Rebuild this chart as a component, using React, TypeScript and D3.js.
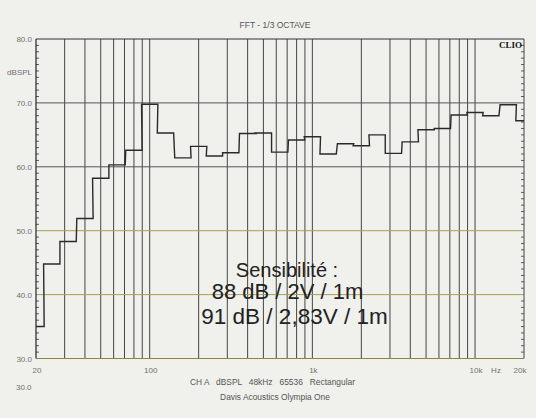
import React from "react";
import * as d3 from "d3";

const bandCenters = [20, 25, 31.5, 40, 50, 63, 80, 100, 125, 160, 200, 250, 315, 400, 500, 630, 800, 1000, 1250, 1600, 2000, 2500, 3150, 4000, 5000, 6300, 8000, 10000, 12500, 16000, 20000];
const bandLevels = [35.0, 44.8, 48.3, 51.9, 58.2, 60.3, 62.6, 69.8, 65.3, 61.4, 63.2, 61.7, 62.2, 65.2, 65.3, 62.3, 64.2, 64.7, 62.0, 63.6, 63.3, 65.0, 62.1, 63.9, 65.8, 66.0, 68.1, 68.5, 68.0, 69.7, 67.2];
const yTicks = [80, 70, 60, 50, 40, 30];
const xGridFreqs = [30, 40, 50, 60, 70, 80, 90, 100, 200, 300, 400, 500, 600, 700, 800, 900, 1000, 2000, 3000, 4000, 5000, 6000, 7000, 8000, 9000, 10000];
const xLabels = [
  { f: 20, t: "20" },
  { f: 100, t: "100" },
  { f: 1000, t: "1k" },
  { f: 10000, t: "10k" },
  { f: 20000, t: "20k" },
];
const annotation = ["Sensibilité :", "88 dB / 2V / 1m", "91 dB / 2,83V / 1m"];

export default function App() {
  const W = 536, H = 418;
  const L = 36, R = 524, T = 39, B = 358.5;
  const fMin = 20, fMax = 20000;
  const x = d3.scaleLog().domain([fMin, fMax]).range([L, R]);
  const y = d3.scaleLinear().domain([30, 80]).range([B, T]);
  const k = Math.pow(2, 1 / 6);

  const pts: [number, number][] = [];
  bandCenters.forEach((f, i) => {
    const lo = Math.max(fMin, f / k);
    const hi = Math.min(fMax, f * k);
    pts.push([x(lo), y(bandLevels[i])]);
    pts.push([x(hi), y(bandLevels[i])]);
  });
  const line = d3.line();
  const minor = d3.range(31, 80).filter((v) => v % 10 !== 0);
  const gray = "#707070";
  const font = "'Liberation Sans', Arial, sans-serif";

  return (
    <svg width={W} height={H} style={{ position: "absolute", left: 0, top: 0 }} fontFamily={font}>
      <rect x={0} y={0} width={W} height={H} fill="#f0f0ec" />
      {/* vertical grid */}
      {xGridFreqs.map((f) => (
        <line key={f} x1={x(f)} x2={x(f)} y1={T} y2={B} stroke="#454545" strokeWidth={1} />
      ))}
      {/* horizontal grid */}
      {[70, 60, 50, 40].map((v) => (
        <line key={v} x1={L} x2={R} y1={y(v)} y2={y(v)} stroke={v >= 60 ? "#555" : "#a8a050"} strokeWidth={1} />
      ))}
      {/* minor ticks */}
      {minor.map((v) => (
        <g key={v}>
          <line x1={L} x2={L + 3} y1={y(v)} y2={y(v)} stroke="#333" strokeWidth={0.8} />
          <line x1={R - 3} x2={R} y1={y(v)} y2={y(v)} stroke="#333" strokeWidth={0.8} />
        </g>
      ))}
      {/* border */}
      <line x1={L} x2={R} y1={T} y2={T} stroke="#333" strokeWidth={1} />
      <line x1={L} x2={L} y1={T} y2={B} stroke="#222" strokeWidth={1.2} />
      <line x1={R} x2={R} y1={T} y2={B} stroke="#444" strokeWidth={1} />
      <line x1={L} x2={R} y1={B} y2={B} stroke="#8a8440" strokeWidth={1.2} />
      {/* curve */}
      <path d={line(pts) || ""} fill="none" stroke="#2a2a2a" strokeWidth={1.4} />
      {/* y labels */}
      {yTicks.map((v) => (
        <text key={v} x={32} y={y(v) + 3} fontSize={8} fill={gray} textAnchor="end">
          {v.toFixed(1)}
        </text>
      ))}
      <text x={32} y={74.5} fontSize={8} fill={gray} textAnchor="end">dBSPL</text>
      <text x={16} y={389.5} fontSize={8} fill={gray}>30.0</text>
      {/* x labels */}
      {xLabels.map((d) => (
        <text key={d.t} x={d.f === 20000 ? x(d.f) - 4 : x(d.f) + 1} y={373} fontSize={8} fill={gray} textAnchor="middle">
          {d.t}
        </text>
      ))}
      <text x={496} y={373} fontSize={8} fill={gray} textAnchor="middle">Hz</text>
      {/* title */}
      <text x={275} y={28} fontSize={8.5} fill="#555" textAnchor="middle">FFT - 1/3 OCTAVE</text>
      <text x={522} y={48} fontSize={9} fontWeight="bold" fill="#111" textAnchor="end" fontFamily="'Liberation Serif', 'DejaVu Serif', serif">CLIO</text>
      <text x={190} y={384.5} fontSize={8.4} fill="#555" style={{ whiteSpace: "pre" }}>CH A   dBSPL   48kHz   65536   Rectangular</text>
      <text x={275} y={400} fontSize={8.4} fill="#555" textAnchor="middle">Davis Acoustics Olympia One</text>
      {/* annotation */}
      {annotation.map((t, i) => (
        <text key={i} x={[287, 287.5, 294.5][i]} y={[277, 299, 324][i]} fontSize={[20, 22, 22.5][i]} fill="#222" textAnchor="middle">
          {t}
        </text>
      ))}
    </svg>
  );
}
